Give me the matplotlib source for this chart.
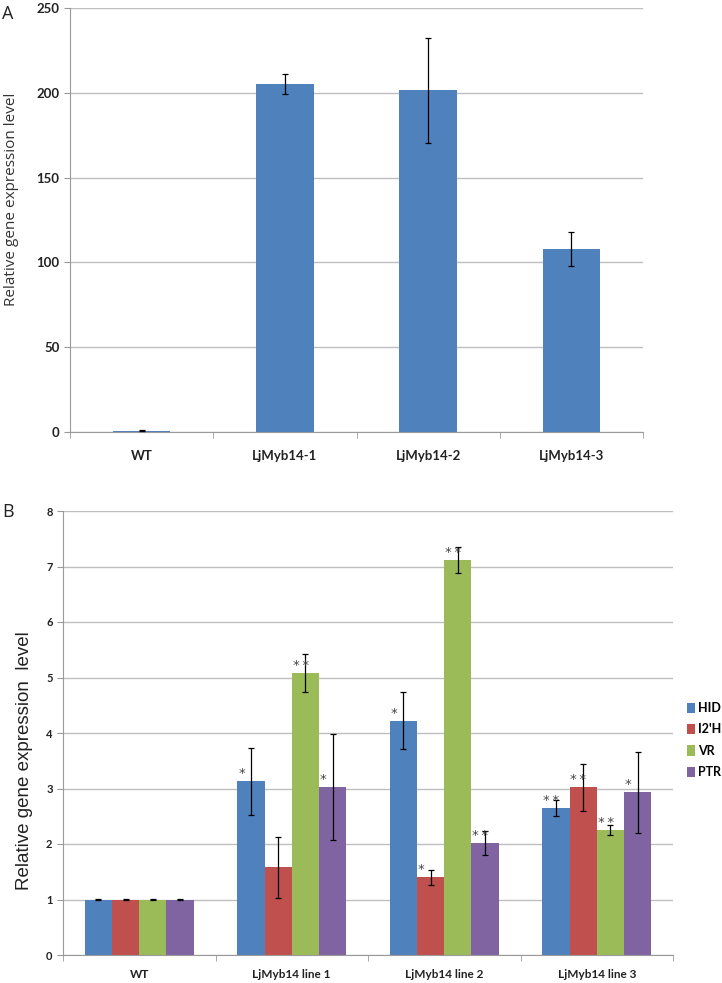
import matplotlib
matplotlib.use("Agg")
import matplotlib.pyplot as plt
import numpy as np
from matplotlib.patches import Patch

# ---- Panel A data ----
a_categories = ["WT", "LjMyb14-1", "LjMyb14-2", "LjMyb14-3"]
a_values = [0.6, 205, 201.5, 108]
a_err = [0.3, 6, 31, 10]
a_yticks = [0, 50, 100, 150, 200, 250]

# ---- Panel B data ----
b_categories = ["WT", "LjMyb14 line 1", "LjMyb14 line 2", "LjMyb14 line 3"]
b_series = ["HID", "I2'H", "VR", "PTR"]
b_hid = [1.0, 3.13, 4.22, 2.65]
b_i2h = [1.0, 1.58, 1.40, 3.02]
b_vr = [1.0, 5.08, 7.12, 2.25]
b_ptr = [1.0, 3.03, 2.02, 2.93]
b_hid_err = [0.005, 0.60, 0.51, 0.15]
b_i2h_err = [0.005, 0.55, 0.13, 0.43]
b_vr_err = [0.005, 0.34, 0.24, 0.09]
b_ptr_err = [0.005, 0.96, 0.21, 0.73]
b_hid_sig = ["", "*", "*", "**"]
b_i2h_sig = ["", "", "*", "**"]
b_vr_sig = ["", "**", "**", "**"]
b_ptr_sig = ["", "*", "**", "*"]
b_yticks = [0, 1, 2, 3, 4, 5, 6, 7, 8]

colors = ["#4F81BD", "#C0504D", "#9BBB59", "#8064A2"]
grid_c = "#BEBEBE"
tick_font = "Lato"

W, H = 722, 983
fig = plt.figure(figsize=(W / 100, H / 100), dpi=100)

def px_axes(l, t, r, b):
    return fig.add_axes([l / W, 1 - b / H, (r - l) / W, (b - t) / H])

def style(ax, ncat):
    for s in ["top", "right"]:
        ax.spines[s].set_visible(False)
    ax.spines["left"].set_color("#9A9A9A")
    ax.spines["bottom"].set_color("#9A9A9A")
    ax.yaxis.grid(True, color=grid_c, linewidth=1.0)
    ax.set_axisbelow(True)
    ax.set_xlim(-0.5, ncat - 0.5)
    ax.set_xticks(range(ncat))
    ax.set_xticks(np.arange(-0.5, ncat, 1.0), minor=True)
    ax.tick_params(axis="x", which="major", length=0)
    ax.tick_params(axis="x", which="minor", length=4, color="#9A9A9A")
    ax.tick_params(axis="y", length=4, color="#9A9A9A")

# ---- Panel A ----
axA = px_axes(70, 8, 643, 432)
x = np.arange(len(a_categories))
axA.bar(x, a_values, width=0.4, color=colors[0], zorder=2)
axA.errorbar(x, a_values, yerr=a_err, fmt="none", ecolor="black",
             elinewidth=0.9, capsize=2.5, capthick=0.9, zorder=3)
style(axA, len(a_categories))
axA.set_ylim(0, 250)
axA.set_yticks(a_yticks)
axA.set_xticklabels(a_categories, fontsize=9.5, family=tick_font, fontweight="bold", color="#222222")
axA.tick_params(axis="x", which="major", pad=13)
for lab in axA.get_yticklabels():
    lab.set_fontsize(9.5); lab.set_family(tick_font); lab.set_fontweight("bold"); lab.set_color("#222222")
fig.text(12 / W, 1 - 199 / H, "Relative gene expression level", rotation=90,
         fontsize=11, family="Open Sans", color="#333333", ha="center", va="center")
fig.text(2 / W, 1 - 14 / H, "A", fontsize=13, family="Open Sans", va="center", ha="left", color="#222222")

# ---- Panel B ----
axB = px_axes(63, 511, 673, 955)
xb = np.arange(len(b_categories))
bw = 0.714 / 4
vals = [b_hid, b_i2h, b_vr, b_ptr]
errs = [b_hid_err, b_i2h_err, b_vr_err, b_ptr_err]
sigs = [b_hid_sig, b_i2h_sig, b_vr_sig, b_ptr_sig]
for i in range(4):
    pos = xb + (i - 1.5) * bw
    axB.bar(pos, vals[i], width=bw, color=colors[i], zorder=2, label=b_series[i])
    axB.errorbar(pos, vals[i], yerr=errs[i], fmt="none", ecolor="black",
                 elinewidth=0.9, capsize=2.5, capthick=0.9, zorder=3)
    for j, s in enumerate(sigs[i]):
        if s:
            axB.text(pos[j] - bw / 2 + 0.005, vals[i][j] + 0.02, "\u2009".join(s),
                     ha="left", va="bottom", fontsize=9.5, color="#444444", zorder=4)
style(axB, len(b_categories))
axB.set_ylim(0, 8)
axB.set_yticks(b_yticks)
axB.set_xticklabels(b_categories, fontsize=8.5, family=tick_font, fontweight="bold", color="#222222")
axB.tick_params(axis="x", which="major", pad=10)
for lab in axB.get_yticklabels():
    lab.set_fontsize(8); lab.set_family(tick_font); lab.set_fontweight("bold"); lab.set_color("#222222")
fig.text(25 / W, 1 - 761 / H, "Relative gene expression  level", rotation=90,
         fontsize=13.5, family="Liberation Sans", color="#222222", ha="center", va="center")
fig.text(2 / W, 1 - 512 / H, "B", fontsize=13, family="Open Sans", va="center", ha="left", color="#222222")

handles = [Patch(facecolor=c, edgecolor="none") for c in colors]
fig.legend(handles, b_series, loc="upper left", bbox_to_anchor=(687 / W, 1 - 702 / H),
           frameon=False, handlelength=0.6, handleheight=0.9, handletextpad=0.3,
           labelspacing=0.75, borderpad=0, borderaxespad=0,
           prop={"family": tick_font, "weight": "bold", "size": 9})

fig.savefig("out.png", dpi=100, facecolor="white")
